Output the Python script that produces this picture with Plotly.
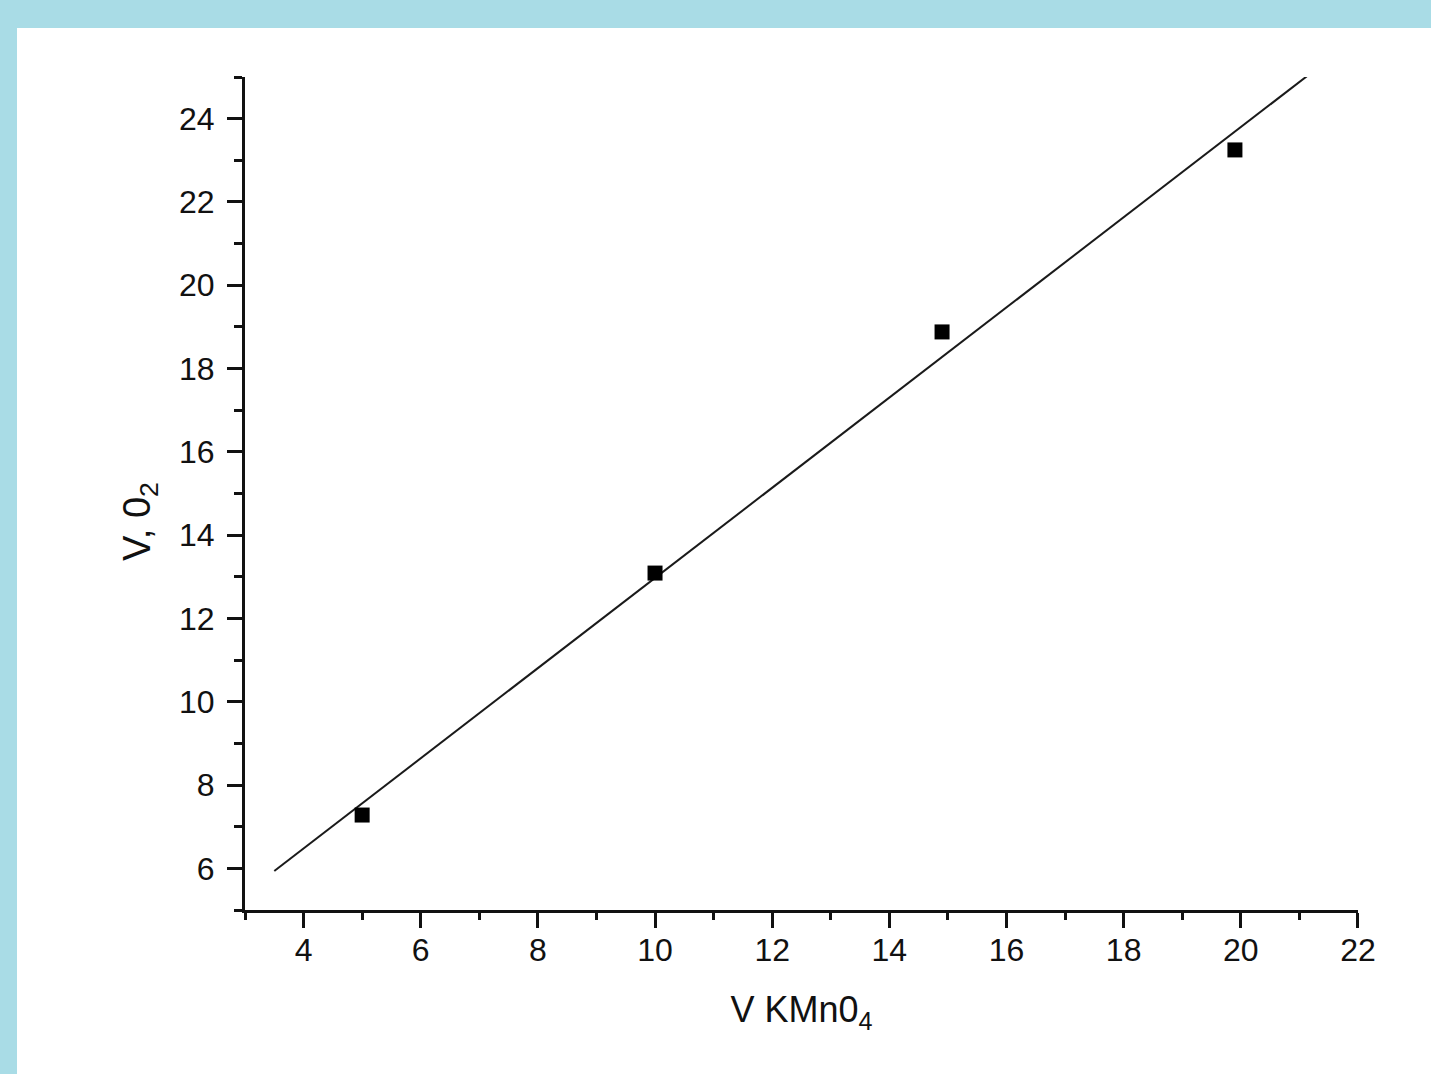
import numpy as np
import plotly.graph_objects as go

# Measured volumes
v_kmno4 = [5.0, 10.0, 14.9, 19.9]
v_o2 = [7.28, 13.09, 18.88, 23.25]

# Extent of the fitted line along x
fit_x_span = [3.5, 21.3]

x_ticks = [4, 6, 8, 10, 12, 14, 16, 18, 20, 22]
y_ticks = [6, 8, 10, 12, 14, 16, 18, 20, 22, 24]

# Least-squares straight line through the measurements
slope, intercept = np.polyfit(v_kmno4, v_o2, 1)
fit_x = np.array(fit_x_span)
fit_y = slope * fit_x + intercept

W, H = 1431, 1074
L, R, T, B = 245, 73, 77, 164
pw, ph = W - L - R, H - T - B

font_family = "Liberation Sans, Arial, sans-serif"
ink = "#111111"

fig = go.Figure()
fig.add_trace(go.Scatter(
    x=fit_x, y=fit_y, mode="lines",
    line=dict(color="#1a1a1a", width=2),
    showlegend=False, hoverinfo="skip",
))
fig.add_trace(go.Scatter(
    x=v_kmno4, y=v_o2, mode="markers",
    marker=dict(symbol="square", size=15, color="black"),
    showlegend=False, cliponaxis=False,
))

axis_common = dict(
    showgrid=False, zeroline=False,
    showline=True, linecolor=ink, linewidth=3,
    ticks="outside", tickcolor=ink, tickwidth=3, ticklen=15,
    tickfont=dict(family=font_family, size=32, color=ink),
    mirror=False,
)

fig.update_layout(
    width=W, height=H,
    margin=dict(l=L, r=R, t=T, b=B, autoexpand=False),
    paper_bgcolor="#a9dce6",
    plot_bgcolor="rgba(0,0,0,0)",
    font=dict(family=font_family, color=ink),
    xaxis=dict(
        range=[3, 22.001],
        tickvals=x_ticks, ticktext=[str(v) for v in x_ticks],
        minor=dict(dtick=1, tick0=0, ticks="outside", ticklen=7,
                   tickwidth=3, tickcolor=ink),
        ticklabelstandoff=-5,
        title=dict(text="V KMn0<sub>4</sub>",
                   font=dict(family=font_family, size=36, color=ink),
                   standoff=30),
        **axis_common,
    ),
    yaxis=dict(
        range=[5, 25.001],
        tickvals=y_ticks, ticktext=[str(v) for v in y_ticks],
        minor=dict(dtick=1, tick0=0, ticks="outside", ticklen=8,
                   tickwidth=3, tickcolor=ink),
        ticklabelstandoff=6,
        **axis_common,
    ),
    annotations=[dict(
        text="V, 0<sub>2</sub>", textangle=-90,
        xref="paper", yref="paper",
        x=(140 - L) / pw, y=(H - B - 522) / ph,
        xanchor="center", yanchor="middle", showarrow=False,
        font=dict(family=font_family, size=38, color=ink),
    )],
    shapes=[dict(
        type="rect", xref="paper", yref="paper", layer="below",
        x0=(17 - L) / pw, x1=(W - L) / pw + 0.01,
        y0=-(B + 5) / ph, y1=(H - B - 28) / ph,
        fillcolor="white", line=dict(width=0),
    )],
)

fig.write_html("out.html")
